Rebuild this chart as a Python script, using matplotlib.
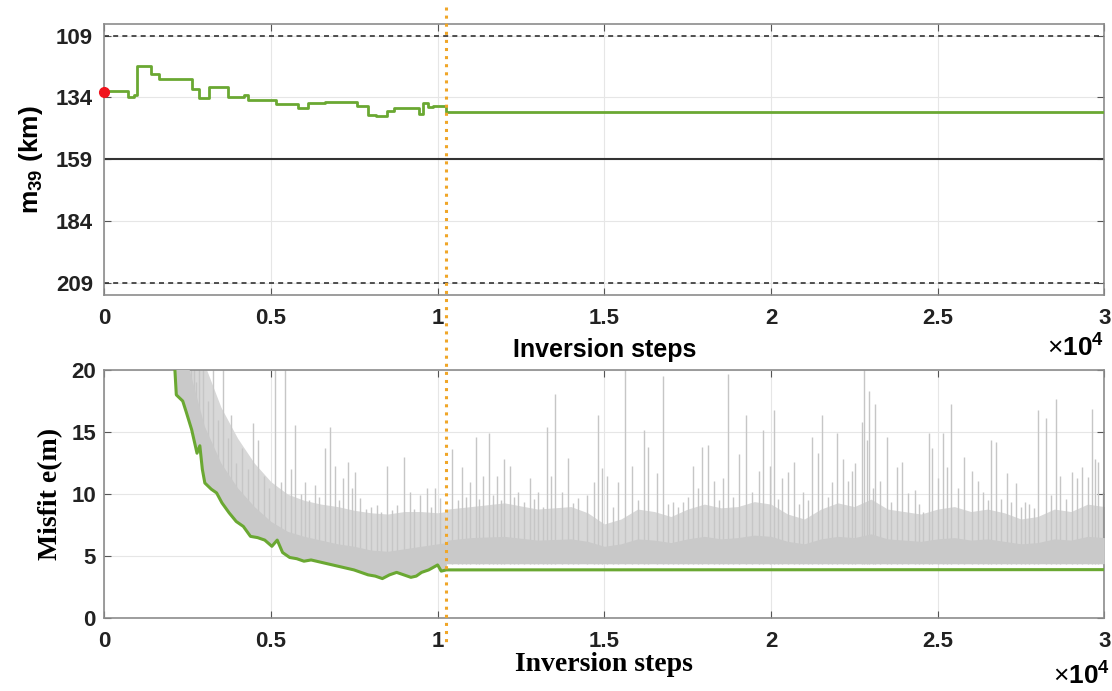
import numpy as np
import matplotlib
matplotlib.use('Agg')
import matplotlib.pyplot as plt
from matplotlib.lines import Line2D
from matplotlib.transforms import blended_transform_factory

# ---- top panel: accepted m39 (km), step trace
m39_steps = [0, 717, 878, 985, 1392, 1627, 2645, 2827, 3148, 3715, 4197, 4304,
             5161, 5824, 6124, 6606, 7570, 7923, 8158, 8480, 8694, 9443, 9550,
             9711, 9872, 10260, 30000]
m39_vals = [131.4, 134.0, 132.9, 121.4, 124.5, 126.6, 130.6, 134.3, 129.7, 133.7,
            133.2, 134.9, 136.6, 138.3, 136.3, 135.9, 137.6, 141.0, 141.4, 139.7,
            138.5, 140.8, 136.3, 137.9, 137.6, 140.1, 140.1]
m39_start = 132.0
m39_true = 159
m39_bounds = [109, 209]
m39_ticks = [109, 134, 159, 184, 209]

# ---- bottom panel: best misfit (green)
best_x = [2090, 2118, 2160, 2353, 2460, 2620, 2781, 2866, 2941, 3016, 3209, 3369,
          3529, 3743, 3957, 4171, 4385, 4599, 4813, 5027, 5187, 5348, 5561, 5775,
          5989, 6203, 6524, 6845, 7166, 7487, 7701, 7914, 8128, 8342, 8556, 8770,
          8984, 9198, 9358, 9519, 9733, 10000, 10107, 10260, 30000]
best_e = [22.0, 20.0, 18.0, 17.5, 16.6, 15.2, 13.3, 13.9, 12.0, 10.9, 10.4, 10.1,
          9.3, 8.5, 7.8, 7.4, 6.6, 6.5, 6.3, 5.8, 6.3, 5.3, 4.9, 4.8,
          4.6, 4.7, 4.5, 4.3, 4.1, 3.9, 3.7, 3.5, 3.4, 3.2, 3.5, 3.7,
          3.5, 3.3, 3.4, 3.7, 3.9, 4.3, 3.8, 3.9, 3.92]

# ---- bottom panel: proposed-model misfits (grey)
gray_floor = 4.4
band_x = [2118, 2500, 3000, 3500, 4000, 4500, 5000, 5500, 6000, 6500, 7000, 7500,
          8000, 8500, 9000, 9500, 10000, 10260, 10300, 11000, 12000, 13000, 14000,
          14500, 15000, 15500, 16000, 16500, 17000, 17500, 18000, 18500, 19000,
          19500, 20000, 20500, 21000, 21500, 22000, 22500, 23000, 23500, 24000,
          24500, 25000, 25500, 26000, 26500, 27000, 27500, 28000, 28500, 29000,
          29500, 30000]
# solid core of the grey trace
core_top = [20.5, 20.5, 15.5, 12.5, 10.5, 9.0, 7.8, 7.0, 6.6, 6.3, 6.0, 5.8,
            5.5, 5.4, 5.6, 5.8, 6.0, 6.1, 6.3, 6.5, 6.6, 6.3, 6.4,
            6.2, 5.8, 6.0, 6.4, 6.3, 6.1, 6.4, 6.6, 6.4, 6.5,
            6.7, 6.6, 6.2, 6.0, 6.4, 6.6, 6.5, 6.8, 6.4, 6.3,
            6.2, 6.4, 6.5, 6.3, 6.4, 6.2, 6.0, 6.1, 6.4, 6.3,
            6.6, 6.5]
# upper edge of the dense hair of lines
hair_top = [20.5, 20.5, 20.5, 17.0, 14.5, 12.5, 11.0, 10.0, 9.5, 9.2, 9.0, 8.7,
            8.5, 8.4, 8.6, 8.6, 8.5, 8.6, 8.8, 9.0, 9.3, 8.8, 9.0,
            8.5, 7.6, 8.0, 8.8, 8.6, 8.2, 8.8, 9.2, 8.9, 9.0,
            9.4, 9.2, 8.4, 8.0, 8.8, 9.3, 9.0, 9.6, 8.8, 8.6,
            8.4, 8.8, 9.0, 8.6, 8.8, 8.5, 8.0, 8.2, 8.8, 8.6,
            9.2, 9.0]
spike_x = [2200, 2341, 2420, 2501, 2600, 2681, 2760, 2841, 2971, 3100, 3271, 3400,
           3571, 3700, 3801, 3950, 4121, 4300, 4471, 4621, 4800, 4950, 5121, 5300,
           5421, 5600, 5721, 5900, 6021, 6150, 6321, 6450, 6621, 6771, 6921, 7050,
           7171, 7321, 7421, 7521, 7671, 7850, 8000, 8171, 8300, 8471, 8620, 8771,
           9001, 9171, 9300, 9471, 9671, 9800, 9921, 10071, 10421, 10600, 10721,
           10850, 10971, 11151, 11250, 11371, 11551, 11650, 11771, 11900, 12001,
           12171, 12300, 12421, 12600, 12771, 12900, 13021, 13150, 13271, 13401,
           13521, 13721, 13921, 14050, 14221, 14471, 14701, 14821, 14921, 15071,
           15250, 15421, 15621, 15841, 16000, 16201, 16321, 16571, 16751, 16900,
           17071, 17200, 17371, 17500, 17651, 17800, 17921, 18121, 18301, 18450,
           18571, 18701, 18850, 19041, 19251, 19421, 19651, 19771, 19971, 20091,
           20200, 20321, 20521, 20691, 20850, 20971, 21100, 21241, 21401, 21541,
           21700, 21841, 21991, 22171, 22321, 22421, 22521, 22721, 22791, 22871,
           22951, 23050, 23121, 23271, 23471, 23601, 23771, 23921, 24121, 24321,
           24450, 24571, 24751, 24841, 25001, 25171, 25271, 25401, 25621, 25801,
           26021, 26201, 26371, 26500, 26591, 26751, 26900, 27091, 27200, 27341,
           27500, 27621, 27750, 27891, 28001, 28251, 28391, 28551, 28671, 28850,
           29021, 29191, 29341, 29521, 29641, 29721, 29821, 29971]
spike_e = [22, 22, 21, 22, 20.5, 22, 19, 22, 22, 17.5, 22, 16,
           22, 14.5, 16.4, 12.5, 13.7, 12, 15.7, 14.4, 11.5, 10.5, 22, 11,
           22, 12, 15.6, 10, 11.0, 9.5, 10.7, 9.8, 13.7, 15.4, 12.3, 9.5,
           11.3, 12.6, 10.5, 11.8, 9.7, 8.8, 9.0, 9.1, 8.6, 12.3, 8.7, 9.1,
           13.0, 10.2, 8.8, 9.9, 10.5, 9.0, 10.5, 9.7, 13.6, 9.5, 12.2,
           9.8, 11.0, 14.6, 9.6, 11.5, 14.9, 9.9, 11.5, 9.5, 12.8,
           12.3, 9.8, 10.2, 9.4, 11.3, 9.6, 10.2, 9.0, 15.4, 11.5,
           18.1, 10.2, 12.9, 9.3, 9.7, 9.9, 11.0, 16.4, 12.1, 11.5,
           9.0, 11.0, 20.5, 12.3, 9.5, 15.2, 13.8, 11.7, 19.5, 9.2,
           9.4, 9.0, 9.4, 9.8, 12.3, 10.5, 13.8, 14.0, 11.1, 9.5,
           11.3, 19.7, 9.8, 13.2, 16.4, 10.2, 11.9, 15.2, 12.3, 16.8,
           9.6, 11.3, 11.8, 12.6, 9.2, 10.2, 9.5, 14.6, 13.3, 16.4,
           9.8, 11.0, 14.9, 12.8, 11.1, 11.9, 12.5, 15.8, 20.5, 14.4,
           18.3, 10.5, 17.3, 11.1, 14.6, 9.4, 12.2, 12.6, 10.1, 10.3,
           9.2, 8.6, 14.9, 13.7, 11.3, 14.9, 12.2, 17.3, 10.5, 13.0,
           11.9, 11.1, 10.2, 9.5, 14.4, 14.2, 9.6, 11.7, 9.4, 10.9,
           9.0, 9.4, 9.2, 8.9, 16.8, 16.1, 9.9, 17.7, 11.5, 9.6,
           11.8, 11.3, 12.2, 11.4, 16.9, 12.8, 12.6, 10.2]

burn_in = 10260
x_ticks = [0, 5000, 10000, 15000, 20000, 25000, 30000]
x_ticklabels = ['0', '0.5', '1', '1.5', '2', '2.5', '3']

green = '#6AA832'
frame = '#8C8C8C'
sans = ['Liberation Sans', 'DejaVu Sans']
serif = ['Liberation Serif', 'DejaVu Serif']

plt.rcParams['font.family'] = sans
plt.rcParams['axes.unicode_minus'] = False
plt.rcParams['mathtext.fontset'] = 'custom'
plt.rcParams['mathtext.rm'] = 'Liberation Sans'
plt.rcParams['mathtext.bf'] = 'Liberation Sans:bold'

fig = plt.figure(figsize=(11.12, 6.91), dpi=100)
ax1 = fig.add_axes([0.0938, 0.5727, 0.8993, 0.3926])
ax2 = fig.add_axes([0.0938, 0.1052, 0.8993, 0.3593])

for ax in (ax1, ax2):
    ax.set_xlim(0, 30000)
    ax.set_xticks(x_ticks)
    ax.set_xticklabels(x_ticklabels)
    ax.grid(True, color='#E6E6E6', linewidth=0.8, zorder=0)
    ax.set_axisbelow(True)
    ax.tick_params(direction='in', top=True, right=True, length=5,
                   color='#555555', labelsize=16, labelcolor='#222222')
    ax.tick_params(axis='x', pad=9)
    for lab in ax.get_xticklabels() + ax.get_yticklabels():
        lab.set_fontweight('bold')
    for sp in ax.spines.values():
        sp.set_color(frame)
        sp.set_linewidth(1.2)
ax1.tick_params(axis='y', pad=8)
ax2.tick_params(axis='y', pad=6)

# top panel
ax1.set_ylim(214.1, 104.3)
ax1.set_yticks(m39_ticks)
ax1.set_yticklabels([str(t) for t in m39_ticks], fontweight='bold')
for b in m39_bounds:
    ax1.axhline(b, color='#333333', linestyle=(0, (3, 2.5)), linewidth=1.2, zorder=2)
ax1.axhline(m39_true, color='#333333', linewidth=1.5, zorder=2)
ax1.plot(m39_steps, m39_vals, drawstyle='steps-post', color=green, linewidth=2.0, zorder=3)
ax1.plot([0], [m39_start], 'o', color='#F0141E', markersize=7, clip_on=False, zorder=5)
ax1.set_ylabel('m$_{\\mathbf{39}}$ (km)', fontsize=19, fontweight='bold', labelpad=8)
ax1.set_xlabel('Inversion steps', fontsize=18, fontweight='bold', labelpad=7)
fig.text(1104 / 1112, 1 - 362 / 691, '$\\times\\mathbf{10^4}$', ha='right', va='bottom',
         fontsize=19)

# bottom panel
ax2.set_ylim(0, 20)
ax2.set_yticks([0, 5, 10, 15, 20])
ax2.set_yticklabels(['0', '5', '10', '15', '20'], fontweight='bold')

# grey band: before burn-in it sits on the best-misfit curve, after it on the floor
bx = np.array(band_x, dtype=float)
pre = sorted(set([x for x in band_x if x <= burn_in] + best_x[1:-1]))
pre_lo = np.interp(pre, best_x, best_e)
post = bx[bx >= burn_in]
for top, col, z in [(hair_top, '#D8D8D8', 2), (core_top, '#C9C9C9', 3)]:
    ax2.fill_between(pre, pre_lo, np.interp(pre, band_x, top), color=col,
                     linewidth=0, zorder=z)
    ax2.fill_between(post, gray_floor, np.interp(post, band_x, top), color=col,
                     linewidth=0, zorder=z)
spike_lo = np.where(np.array(spike_x) < burn_in,
                    np.interp(spike_x, best_x, best_e), gray_floor)
ax2.vlines(spike_x, spike_lo, spike_e, color='#C6C6C6', linewidth=1.0, zorder=2)
ax2.plot(best_x, best_e, color=green, linewidth=2.2, zorder=4)
ax2.set_ylabel('Misfit e(m)', fontsize=20, fontweight='bold', family=serif, labelpad=6)
ax2.set_xlabel('Inversion steps', fontsize=20, fontweight='bold', family=serif, labelpad=0)
fig.text(1110 / 1112, 1 - 690 / 691, '$\\times\\mathbf{10^4}$', ha='right', va='bottom',
         fontsize=19)

# burn-in marker across both panels
tr = blended_transform_factory(ax2.transData, fig.transFigure)
fig.add_artist(Line2D([burn_in, burn_in], [1 - 7 / 691, 1 - 643 / 691], transform=tr,
                      color='#F0A628', linestyle=':', linewidth=2.2, zorder=10))

fig.savefig('out.png', dpi=100)
